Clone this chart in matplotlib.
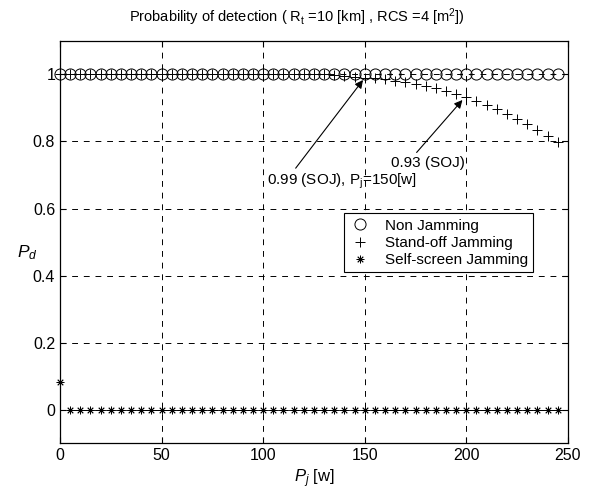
import matplotlib
matplotlib.use("Agg")
import matplotlib.pyplot as plt
import numpy as np

plt.rcParams['font.family'] = ['Liberation Sans', 'DejaVu Sans']
plt.rcParams['mathtext.fontset'] = 'custom'
plt.rcParams['mathtext.rm'] = 'Liberation Sans'
plt.rcParams['mathtext.it'] = 'Liberation Sans:italic'

# Jammer power [W]
pj = list(range(0, 250, 5))

# Non jamming: Pd = 1 everywhere
pd_nj = [1.0] * 50

# Stand-off jamming
pd_soj = [1.0] * 27 + [0.998, 0.996, 0.993,
          0.990, 0.988, 0.985, 0.981, 0.977, 0.972, 0.966, 0.960, 0.952, 0.943,
          0.932, 0.921, 0.909, 0.896, 0.882, 0.867, 0.851, 0.834, 0.816, 0.797]

# Self-screen jamming
pd_ssj = [0.082] + [0.0] * 49

fig = plt.figure(figsize=(5.94, 4.93), dpi=100)
ax = fig.add_axes([0.101, 0.101, 0.855, 0.816])

ax.plot(pj[1:], pd_ssj[1:], '-', color='k', lw=0.6)
ax.plot(pj, pd_nj, 'o', mfc='none', mec='k', ms=8, mew=0.7, label='Non Jamming', clip_on=False)
ax.plot(pj, pd_soj, '+', color='k', ms=7.5, mew=0.7, label='Stand-off Jamming', clip_on=False)
ax.plot(pj, pd_ssj, marker=(8, 2, 0), ls='none', color='k', ms=5.5, mew=0.6,
        label='Self-screen Jamming', clip_on=False)

ax.set_xlim(0, 250)
ax.set_ylim(-0.1, 1.1)
ax.set_xticks([0, 50, 100, 150, 200, 250])
ax.set_yticks([0, 0.2, 0.4, 0.6, 0.8, 1.0])
ax.set_yticklabels(['0', '0.2', '0.4', '0.6', '0.8', '1'])
ax.tick_params(direction='in', labelsize=11.5, length=4, top=True, right=True)
ax.grid(True, color='k', linestyle=(0, (6, 6)), lw=0.7)
for s in ax.spines.values():
    s.set_linewidth(0.9)

fig.text(0.5, 0.965, r'Probability of detection ( R$_{\mathrm{t}}$ =10 [km] , RCS =4 [m$^{\mathrm{2}}$])',
         fontsize=10.5, ha='center', va='center')
ax.set_xlabel(r'$P_j$ [w]', fontsize=12, labelpad=3)
ax.set_ylabel(r'$P_d$', fontsize=12.5, rotation=0)
ax.yaxis.set_label_coords(-0.065, 0.45)

ax.annotate(r'0.99 (SOJ), P$_{\mathrm{j}}$=150[w]', xy=(150, 0.99), xytext=(102, 0.68),
            fontsize=11, ha='left', va='center',
            arrowprops=dict(arrowstyle='-|>', color='k', lw=0.8, mutation_scale=12,
                            shrinkA=1, shrinkB=2, relpos=(0.17, 1.0)))
ax.annotate('0.93 (SOJ)', xy=(199, 0.93), xytext=(163, 0.735),
            fontsize=11, ha='left', va='center',
            arrowprops=dict(arrowstyle='-|>', color='k', lw=0.8, mutation_scale=12,
                            shrinkA=1, shrinkB=2, relpos=(0.3, 1.0)))

leg = ax.legend(loc='upper left', bbox_to_anchor=(0.545, 0.59), fontsize=11,
                frameon=True, fancybox=False, edgecolor='k', framealpha=1,
                handlelength=1.4, handletextpad=0.9, borderpad=0.35, labelspacing=0.2)
leg.get_frame().set_linewidth(0.8)

fig.savefig('out.png', dpi=100)
